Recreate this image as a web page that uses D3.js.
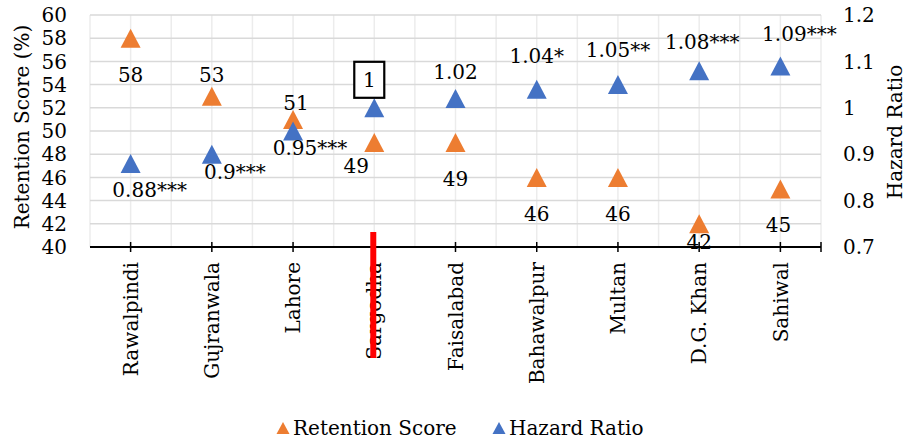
<!DOCTYPE html>
<html><head><meta charset="utf-8">
<script src="https://cdn.jsdelivr.net/npm/d3@7"></script>
<style>body{margin:0;background:#fff}svg{display:block}text{font-family:"DejaVu Serif",serif;fill:#000}</style>
</head><body>
<script>
const categories = ["Rawalpindi","Gujranwala","Lahore","Sargodha","Faisalabad","Bahawalpur","Multan","D.G. Khan","Sahiwal"];
const retention = [58,53,51,49,49,46,46,42,45];
const hazard = [0.88,0.9,0.95,1,1.02,1.04,1.05,1.08,1.09];
const hazardLabels = ["0.88***","0.9***","0.95***","1","1.02","1.04*","1.05**","1.08***","1.09***"];
const leftTicks = [40,42,44,46,48,50,52,54,56,58,60];
const rightTicks = [0.7,0.8,0.9,1,1.1,1.2];
// label offsets (styling)
const retLabelDx = [0,0,3,-18,0,0,0,0,-2];
const retLabelDy = [37,-21,-17,23,36,36,36,18,36];
const hazLabelDx = [19,23,17,-5,0,0,0,3,19];
const hazLabelDy = [26,18,17,-28,-27,-33,-35,-29,-32];

const W=909,H=443;
const m={l:90,r:821,t:15,b:247};
const svg=d3.select("body").append("svg").attr("width",W).attr("height",H);
const x=d3.scaleBand().domain(categories).range([m.l,m.r]);
const yL=d3.scaleLinear().domain([40,60]).range([m.b,m.t]);
const yR=d3.scaleLinear().domain([0.7,1.2]).range([m.b,m.t]);
const ORANGE="#ED7D31", BLUE="#4472C4";

// grid
const g=svg.append("g");
const halfTicks=[];
categories.forEach(c=>{halfTicks.push(x(c));halfTicks.push(x(c)+x.bandwidth()/2);});
halfTicks.push(m.r);
g.selectAll(".vg").data(halfTicks).join("line")
  .attr("x1",d=>d).attr("x2",d=>d).attr("y1",m.t).attr("y2",m.b)
  .attr("stroke","#ececec").attr("stroke-width",1.5);
g.selectAll(".hg").data(leftTicks).join("line")
  .attr("x1",m.l).attr("x2",m.r).attr("y1",d=>yL(d)).attr("y2",d=>yL(d))
  .attr("stroke","#d9d9d9").attr("stroke-width",1.5);

// left axis labels
svg.append("g").selectAll("text").data(leftTicks).join("text")
  .attr("x",67).attr("y",d=>yL(d)).attr("dy","0.36em").attr("text-anchor","end")
  .style("font-size","20px").text(d=>d);
// right axis labels
svg.append("g").selectAll("text").data(rightTicks).join("text")
  .attr("x",843).attr("y",d=>yR(d)).attr("dy","0.36em").attr("text-anchor","start")
  .style("font-size","20px").text(d=>d);

// titles
svg.append("text").attr("transform",`translate(29,127) rotate(-90)`)
  .attr("text-anchor","middle").style("font-size","20px").text("Retention Score (%)");
svg.append("text").attr("transform",`translate(902,132) rotate(-90)`)
  .attr("text-anchor","middle").style("font-size","20px").text("Hazard Ratio");

// x axis
const cx=c=>x(c)+x.bandwidth()/2;
svg.append("line").attr("x1",m.l).attr("x2",m.r).attr("y1",m.b).attr("y2",m.b)
  .attr("stroke","#000").attr("stroke-width",2);
svg.append("g").selectAll("line").data(categories).join("line")
  .attr("x1",d=>cx(d)).attr("x2",d=>cx(d)).attr("y1",m.b-5).attr("y2",m.b+5)
  .attr("stroke","#000").attr("stroke-width",1.5);
svg.append("line").attr("x1",m.r).attr("x2",m.r).attr("y1",m.b-5).attr("y2",m.b+5)
  .attr("stroke","#000").attr("stroke-width",1.5);
svg.append("g").selectAll("text").data(categories).join("text")
  .attr("transform",d=>`translate(${cx(d)},262) rotate(-90)`)
  .attr("text-anchor","end").attr("dy","0.36em")
  .style("font-size","20px").text(d=>d);

// triangles
const tri=(w,h)=>`M0,${-h/2}L${w/2},${h/2}L${-w/2},${h/2}Z`;
svg.append("g").selectAll("path").data(retention).join("path")
  .attr("d",tri(20,19)).attr("fill",ORANGE)
  .attr("transform",(d,i)=>`translate(${cx(categories[i])},${yL(d)})`);
svg.append("g").selectAll("path").data(hazard).join("path")
  .attr("d",tri(20,19)).attr("fill",BLUE)
  .attr("transform",(d,i)=>`translate(${cx(categories[i])},${yR(d)})`);

// data labels
svg.append("g").selectAll("text").data(retention).join("text")
  .attr("x",(d,i)=>cx(categories[i])+retLabelDx[i])
  .attr("y",(d,i)=>yL(d)+retLabelDy[i]).attr("dy","0.36em")
  .attr("text-anchor","middle").style("font-size","20px").text(d=>d);
const hl=svg.append("g").selectAll("g").data(hazard).join("g")
  .attr("transform",(d,i)=>`translate(${cx(categories[i])+hazLabelDx[i]},${yR(d)+hazLabelDy[i]})`);
hl.filter((d,i)=>i===3).append("rect")
  .attr("x",-15).attr("y",-18).attr("width",30).attr("height",36)
  .attr("fill","#fff").attr("stroke","#000").attr("stroke-width",2.2);
hl.append("text").attr("dy","0.36em").attr("text-anchor","middle")
  .style("font-size","20px").text((d,i)=>hazardLabels[i]);

// red marker line
svg.append("line").attr("x1",cx("Sargodha")-1).attr("x2",cx("Sargodha")-1)
  .attr("y1",232).attr("y2",358).attr("stroke","#FF0000").attr("stroke-width",6);

// legend
const leg=svg.append("g");
const items=[{t:"Retention Score",c:ORANGE,x:283},{t:"Hazard Ratio",c:BLUE,x:499}];
items.forEach(it=>{
  leg.append("path").attr("d",tri(13,12)).attr("fill",it.c).attr("transform",`translate(${it.x},428)`);
  leg.append("text").attr("x",it.x+10).attr("y",428).attr("dy","0.36em").style("font-size","20px").text(it.t);
});
</script>
</body></html>
